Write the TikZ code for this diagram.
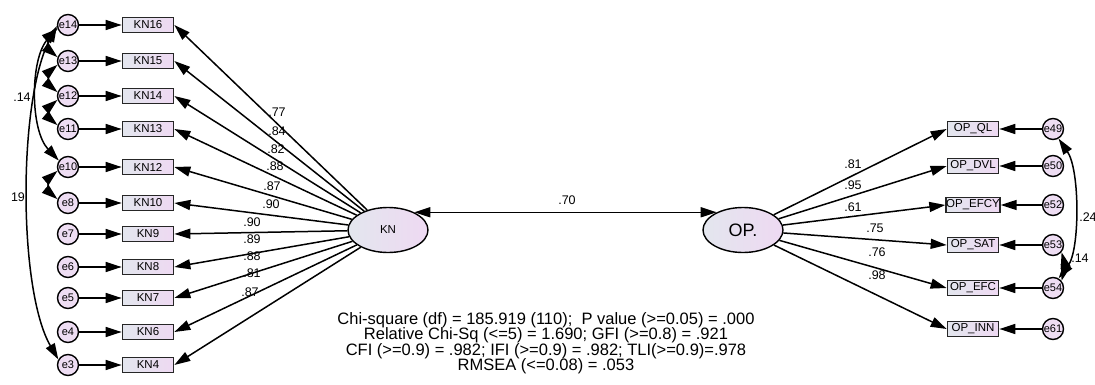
\documentclass[tikz,border=0pt]{standalone}
\usepackage{fontspec}
\setmainfont{Liberation Sans}
\usetikzlibrary{arrows.meta,shapes.geometric}
\definecolor{lav}{HTML}{EEDDF3}
\definecolor{shadeL}{HTML}{E3E6EE}
\definecolor{shadeR}{HTML}{EED9F2}

\begin{document}
\begin{tikzpicture}[x=1pt,y=1pt,
  err/.style={circle,draw,line width=1.4pt,fill=lav,minimum size=21pt,inner sep=0pt,
              font=\fontsize{11}{11}\selectfont},
  obs/.style={rectangle,draw=black!85,line width=1.7pt,left color=shadeL,right color=shadeR,
              minimum width=51pt,minimum height=15pt,inner sep=0pt,font=\fontsize{11.5}{11.5}\selectfont},
  lat/.style={ellipse,draw,line width=1.4pt,left color=shadeL,right color=shadeR,
              minimum width=80pt,minimum height=45pt,inner sep=0pt},
  arr/.style={line width=1.5pt,-{Triangle[length=16pt,width=10pt]}},
  darr/.style={line width=1.5pt,{Triangle[length=16pt,width=10pt]}-{Triangle[length=16pt,width=10pt]}},
  lbl/.style={font=\fontsize{12.5}{12.5}\selectfont,inner sep=0pt}
]
\useasboundingbox (0,0) rectangle (1095,-385);

% latent factors
\node[lat,font=\fontsize{11.5}{11.5}\selectfont] (KN) at (388,-230) {KN};
\node[lat,font=\fontsize{18}{18}\selectfont] (OP) at (743,-230) {OP.};

% knowledge indicators with their error terms
\foreach \e/\k/\yy/\w/\lx/\ly in {14/16/25/.77/277/112, 13/15/61/.84/277/131,
    12/14/96/.82/276/149, 11/13/129/.88/275/166, 10/12/167/.87/272/186,
    8/10/203/.90/271/204, 7/9/234/.90/252/222, 6/8/267/.89/252/239,
    5/7/298/.88/252/256, 4/6/332/.81/252/273, 3/4/365/.87/250/292}{
  \node[err] (e\e) at (68,-\yy) {e\e};
  \node[obs] (kn\k) at (148,-\yy) {KN\k};
  \draw[arr] (e\e) -- (kn\k);
  \draw[arr] (KN) -- (kn\k.east);
  \node[lbl] at (\lx,-\ly) {\w};
}

% operational indicators with their error terms
\foreach \e/\o/\yy/\w/\lx/\ly in {49/QL/129/.81/853/164, 50/DVL/166/.95/853/185,
    52/EFCY/205/.61/853/207, 53/SAT/245/.75/875/228, 54/EFC/288/.76/877/252,
    61/INN/329/.98/877/275}{
  \node[obs] (op\o) at (973,-\yy) {OP\_\o};
  \node[err] (e\e) at (1053,-\yy) {e\e};
  \draw[arr] (e\e) -- (op\o);
  \draw[arr] (OP) -- (op\o.west);
  \node[lbl] at (\lx,-\ly) {\w};
}

% factor covariance
\draw[darr] (KN.34) -- (OP.146);
\node[lbl] at (567,-200) {.70};

% error covariances, left
\draw[darr] (e14.200) to[bend right=50] (e13.160);
\draw[darr] (e13.200) to[bend right=50] (e12.160);
\draw[darr] (e12.200) to[bend right=50] (e11.160);
\draw[darr] (e10.200) to[bend right=50] (e8.160);
\draw[darr] (e14.195) .. controls (30,-60) and (30,-130) .. (e10.145);
\draw[darr] (e14.185) .. controls (18,-100) and (18,-290) .. (e3.150);
\node[lbl] at (22,-97) {.14};
\node[lbl] at (18,-197) {19};

% error covariances, right
\draw[darr] (e49.-60) .. controls (1080,-170) and (1080,-250) .. (e54.60);
\draw[darr] (e53.-40) to[bend left=15] (e54.40);
\node[lbl] at (1088,-217) {.24};
\node[lbl] at (1080,-258) {.14};

% fit statistics
\node[align=center,font=\fontsize{16.5}{15.5}\selectfont,inner sep=0pt] (fit) at (546,-343)
  {Chi-square (df) = 185.919 (110);\ \ P value (>=0.05) = .000\\
   Relative Chi-Sq (<=5) = 1.690; GFI (>=0.8) = .921\\
   CFI (>=0.9) = .982; IFI (>=0.9) = .982; TLI(>=0.9)=.978\\
   RMSEA (<=0.08) = .053};
\end{tikzpicture}
\end{document}
